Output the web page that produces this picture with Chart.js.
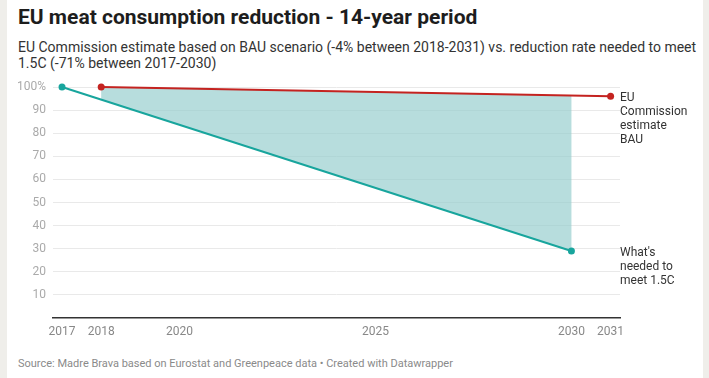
<!DOCTYPE html>
<html>
<head>
<meta charset="utf-8">
<script src="https://cdn.jsdelivr.net/npm/chart.js@4"></script>
<style>
  html, body { margin:0; padding:0; background:#efeeea; }
  #wrap { position:absolute; left:7px; top:0; width:696px; height:378px; background:#ffffff; }
  #title { position:absolute; left:11px; top:5px; font:bold 21px Roboto, sans-serif; color:#1d1d1d; white-space:nowrap; }
  #sub { position:absolute; left:11px; top:39px; width:680px; font:14px Roboto, sans-serif; line-height:16px; color:#333; }
  #src { position:absolute; left:11px; top:357px; font:11px Roboto, sans-serif; color:#8a8a8a; white-space:nowrap; }
  #c { position:absolute; left:0; top:0; }
</style>
</head>
<body>
<div id="wrap">
  <div id="title">EU meat consumption reduction - 14-year period</div>
  <div id="sub">EU Commission estimate based on BAU scenario (-4% between 2018-2031) vs. reduction rate needed to meet 1.5C (-71% between 2017-2030)</div>
  <div id="src">Source: Madre Brava based on Eurostat and Greenpeace data • Created with Datawrapper</div>
</div>
<canvas id="c" width="709" height="378"></canvas>
<script>
const bauYears = [2018, 2031];
const bauValues = [100, 96];
const neededYears = [2017, 2030];
const neededValues = [100, 29];
const xTicks = [2017, 2018, 2020, 2025, 2030, 2031];
const yTicks = [10, 20, 30, 40, 50, 60, 70, 80, 90, 100];
const bauLabel = ["EU", "Commission", "estimate", "BAU"];
const neededLabel = ["What's", "needed to", "meet 1.5C"];

const RED = '#c42320';
const TEAL = '#18a59d';
const FILL = 'rgba(149,205,205,0.68)';

function lerp(xs, ys, x) {
  return ys[0] + (ys[1] - ys[0]) * (x - xs[0]) / (xs[1] - xs[0]);
}

const gapFill = {
  id: 'gapFill',
  beforeDatasetsDraw(chart) {
    const {ctx, scales:{x, y}} = chart;
    const x0 = Math.max(bauYears[0], neededYears[0]);
    const x1 = Math.min(bauYears[1], neededYears[1]);
    ctx.save();
    ctx.fillStyle = FILL;
    ctx.beginPath();
    ctx.moveTo(x.getPixelForValue(x0), y.getPixelForValue(lerp(bauYears, bauValues, x0)));
    ctx.lineTo(x.getPixelForValue(x1), y.getPixelForValue(lerp(bauYears, bauValues, x1)));
    ctx.lineTo(x.getPixelForValue(x1), y.getPixelForValue(lerp(neededYears, neededValues, x1)));
    ctx.lineTo(x.getPixelForValue(x0), y.getPixelForValue(lerp(neededYears, neededValues, x0)));
    ctx.closePath();
    ctx.fill();
    ctx.restore();
  }
};

const endLabels = {
  id: 'endLabels',
  afterDatasetsDraw(chart) {
    const {ctx, scales:{x, y}, chartArea} = chart;
    ctx.save();
    ctx.font = '12px Roboto, sans-serif';
    ctx.fillStyle = '#333';
    ctx.textBaseline = 'middle';
    ctx.textAlign = 'left';
    const lx = chartArea.right + 0;
    let py = y.getPixelForValue(bauValues[1]) + 2;
    bauLabel.forEach((t, i) => ctx.fillText(t, lx, py + i * 13.8));
    py = y.getPixelForValue(neededValues[1]) + 2;
    neededLabel.forEach((t, i) => ctx.fillText(t, lx, py + i * 13.8));
    ctx.restore();
  }
};

new Chart(document.getElementById('c'), {
  type: 'line',
  data: {
    datasets: [
      {
        label: 'EU Commission estimate BAU',
        data: bauYears.map((yr, i) => ({x: yr, y: bauValues[i]})),
        borderColor: RED, backgroundColor: RED,
        borderWidth: 2, pointRadius: 3.5, pointHoverRadius: 3.5, pointBorderWidth: 0,
        fill: false
      },
      {
        label: "What's needed to meet 1.5C",
        data: neededYears.map((yr, i) => ({x: yr, y: neededValues[i]})),
        borderColor: TEAL, backgroundColor: TEAL,
        borderWidth: 2, pointRadius: 3.5, pointHoverRadius: 3.5, pointBorderWidth: 0,
        fill: false
      }
    ]
  },
  options: {
    responsive: false,
    animation: false,
    clip: false,
    layout: { padding: { left: 0, right: 89, top: 87, bottom: 0 } },
    plugins: { legend: { display: false }, tooltip: { enabled: false } },
    scales: {
      x: {
        type: 'linear',
        min: 2016.77, max: 2031.24,
        afterBuildTicks: s => { s.ticks = xTicks.map(v => ({value: v})); },
        afterFit: s => { s.height = 60; },
        grid: { display: false, drawTicks: false },
        border: { display: true, color: '#333', width: 1.5 },
        ticks: { color: '#888', font: { family: 'Roboto', size: 12 }, padding: 7, maxRotation: 0, autoSkip: false,
                 callback: v => String(v) }
      },
      y: {
        min: 0, max: 100,
        afterBuildTicks: s => { s.ticks = yTicks.map(v => ({value: v})); },
        afterFit: s => { s.width = 53; },
        grid: { color: '#e9e9e9', lineWidth: 1, drawTicks: false },
        border: { display: false },
        ticks: { color: '#aaa', font: { family: 'Roboto', size: 12 }, padding: 7,
                 callback: v => v === 100 ? '100%' : String(v) }
      }
    }
  },
  plugins: [gapFill, endLabels]
});
</script>
</body>
</html>
